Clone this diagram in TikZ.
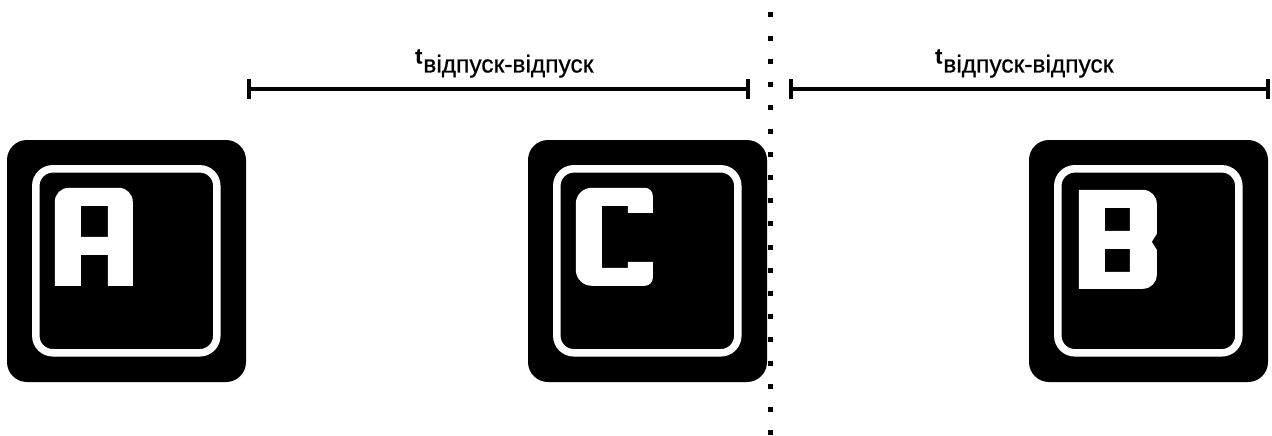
\documentclass[tikz,border=0pt]{standalone}
\usepackage{fontspec}
\setmainfont{Liberation Sans}
\newfontfamily\lblfont[FakeBold=0.8]{Liberation Sans}
\usetikzlibrary{arrows.meta}
\tikzset{
  keybox/.style={fill=black, rounded corners=20pt, minimum width=239pt, minimum height=242pt, inner sep=0pt, draw=none},
  ring/.style={draw=white, line width=7.5pt, rounded corners=17pt},
  glyph/.style={fill=white, even odd rule},
  measure/.style={line width=4pt, {Bar[width=19pt,line width=4pt]}-{Bar[width=19pt,line width=4pt]}},
  divider/.style={line width=5pt, dash pattern=on 5pt off 18.2pt},
  lbl/.style={inner sep=0pt, anchor=base west, text=black, font=\lblfont}
}
\newcommand{\tsz}{\fontsize{21.5}{21.5}\bfseries\selectfont}
\newcommand{\ssz}{\fontsize{24.5}{24.5}\mdseries\selectfont}
\begin{document}
\begin{tikzpicture}[x=1pt,y=1pt]
\useasboundingbox (0,0) rectangle (1272,-436);
% keys
\node[keybox] (A) at (126.5,-261) {};
\node[keybox] (C) at (647.5,-261) {};
\node[keybox] (B) at (1148.5,-261) {};
% rings
\foreach \k in {A,C,B}{
  \draw[ring] ([shift={(29,-29)}]\k.north west) rectangle ([shift={(210,-213)}]\k.north west);
}
% letter A
\begin{scope}[shift={(A.north west)}]
\fill[glyph] (48,-146) -- (48,-62) arc[start angle=180,end angle=90,radius=14] -- (112,-48)
  arc[start angle=90,end angle=0,radius=14] -- (126,-146) -- (101,-146) -- (101,-115) -- (74,-115) -- (74,-146) -- cycle
  (74,-66) rectangle (101,-97);
\end{scope}
% letter C
\begin{scope}[shift={(C.north west)}]
\fill[glyph] (64,-48) -- (117,-48) arc[start angle=90,end angle=0,radius=8] -- (125,-73) -- (100,-73) -- (100,-66)
  -- (74,-66) -- (74,-128) -- (100,-128) -- (100,-122) -- (125,-122) -- (125,-138)
  arc[start angle=0,end angle=-90,radius=8] -- (64,-146) arc[start angle=270,end angle=180,radius=16]
  -- (48,-64) arc[start angle=180,end angle=90,radius=16] -- cycle;
\end{scope}
% letter B
\begin{scope}[shift={(B.north west)}]
\fill[glyph] (50,-50) -- (114,-50) arc[start angle=90,end angle=0,radius=14] -- (128,-94) -- (123,-102) -- (128,-110)
  -- (128,-135) arc[start angle=0,end angle=-90,radius=14] -- (50,-149) -- cycle
  (76,-68) rectangle (101,-91)
  (76,-109) rectangle (101,-132);
\end{scope}
% divider
\coordinate (dtop) at (770,-12.5);
\coordinate (dbot) at (770,-436);
\draw[divider] (dtop) -- (dbot);
% measures
\coordinate (m1s) at (247,-89);
\coordinate (m1e) at (750,-89);
\coordinate (m2s) at (789,-89);
\coordinate (m2e) at (1270,-89);
\draw[measure] (m1s) -- (m1e);
\draw[measure] (m2s) -- (m2e);
% labels
\node[lbl] (l1) at (415,-63.5) {\tsz t\kern1pt\raisebox{-9pt}{\ssz відпуск-відпуск}};
\node[lbl] (l2) at (935,-63.5) {\tsz t\kern1pt\raisebox{-9pt}{\ssz відпуск-відпуск}};
\end{tikzpicture}
\end{document}
